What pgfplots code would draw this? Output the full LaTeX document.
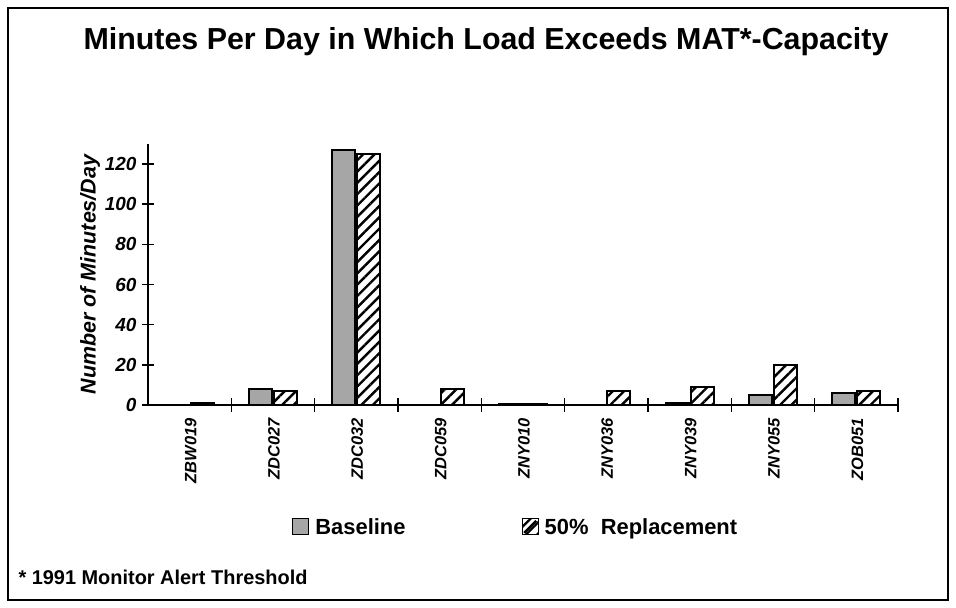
\documentclass[border=0pt]{standalone}
\usepackage{fontspec}
\setmainfont{Liberation Sans}
\usepackage{pgfplots}
\pgfplotsset{compat=1.18}
\usetikzlibrary{patterns.meta}
\begin{document}
\begin{tikzpicture}
\path[use as bounding box] (0,0) rectangle (956bp,608bp);
\draw[line width=2bp] (8bp,8bp) rectangle (948bp,600bp);
\node[font=\fontsize{30.5}{32}\selectfont\bfseries] at (486bp,566bp) {Minutes Per Day in Which Load Exceeds MAT*-Capacity};
\node[font=\fontsize{20}{22}\selectfont\bfseries, anchor=west] at (15bp,31bp) {* 1991 Monitor Alert Threshold};
\begin{axis}[
  at={(148bp,203bp)}, anchor=south west,
  scale only axis, width=750bp, height=261bp,
  xmin=-0.5, xmax=8.5, ymin=0, ymax=130,
  axis lines*=left,
  axis line style={line width=2bp},
  ybar=2bp, bar width=23bp,
  xtick={0,...,8},
  xticklabels={ZBW019,ZDC027,ZDC032,ZDC059,ZNY010,ZNY036,ZNY039,ZNY055,ZOB051},
  minor xtick={0.5,1.5,...,8.5},
  major x tick style={draw=none},
  minor tick length=14bp,
  ytick={0,20,...,120},
  major tick length=12bp,
  tick align=center,
  tick style={line width=1.5bp, black},
  /pgf/number format/assume math mode=true,
  xticklabel style={rotate=90, anchor=east, font=\fontsize{16.5}{16}\selectfont\bfseries\itshape, yshift=-1bp, xshift=-4bp},
  yticklabel style={font=\fontsize{19}{18}\selectfont\bfseries\itshape, xshift=-2bp},
  ylabel={Number of Minutes/Day},
  ylabel style={font=\fontsize{21.5}{20}\selectfont\bfseries\itshape, yshift=-2bp},
  legend columns=2,
  legend style={at={(0.192,-0.467)}, anchor=west, draw=none, fill=none, inner sep=0pt,
    font=\fontsize{22}{22}\selectfont\bfseries,
    /tikz/every odd column/.append style={column sep=4bp},
    /tikz/every even column/.append style={column sep=114bp}},
]
\addplot[draw=black, line width=1.8bp, fill=gray!70,
  legend image code/.code={\draw[draw=black, line width=1.2bp, fill=gray!70] (0bp,-8bp) rectangle (16bp,8bp);}]
  coordinates {(0,0) (1,8) (2,127) (3,0) (4,0.5) (5,0) (6,1) (7,5) (8,6)};
\addlegendentry{Baseline}
\addplot[draw=black, line width=1.8bp, pattern={Lines[angle=45,distance=8bp,line width=2.4bp]},
  legend image code/.code={\draw[draw=black, line width=1.2bp] (0bp,-8bp) rectangle (16bp,8bp); \draw[line width=2.4bp] (2bp,-6bp) -- (14bp,6bp);}]
  coordinates {(0,1) (1,7) (2,125) (3,8) (4,0.5) (5,7) (6,9) (7,20) (8,7)};
\addlegendentry{50\%\ \ Replacement}
\end{axis}
\end{tikzpicture}
\end{document}
